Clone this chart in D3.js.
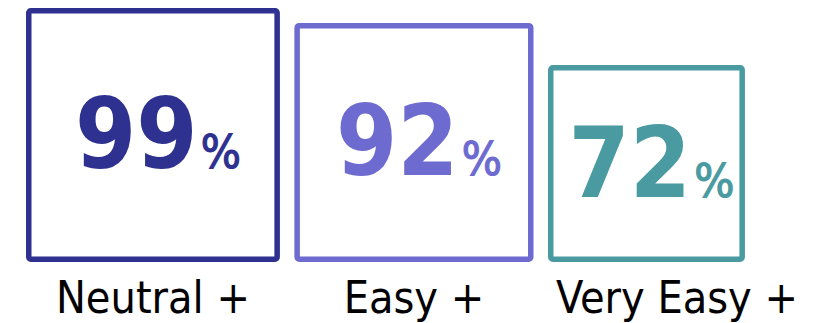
<!DOCTYPE html>
<html>
<head>
<meta charset="utf-8">
<script src="https://cdn.jsdelivr.net/npm/d3@7"></script>
<style>
  html, body { margin: 0; padding: 0; background: #fff; }
  svg { display: block; }
</style>
</head>
<body>
<svg id="chart" width="828" height="323"></svg>
<script>
// Share of respondents at or above each ease level
const categories = ["Neutral +", "Easy +", "Very Easy +"];
const values = [99, 92, 72];
const colors = ["#2E3190", "#6D6BD0", "#4A9BA1"];

const svg = d3.select("#chart");

const strokeW = 5.5;
const left = 26;        // left edge of the first box
const baseY = 262;      // shared bottom edge of the boxes
const gap = 14.5;       // horizontal space between boxes

// box side grows with the value
const side = d3.scaleLinear().domain([0, 100]).range([45, 256]);

// lay the boxes out left to right, bottom aligned
let cursor = left;
const items = categories.map((c, i) => {
  const s = side(values[i]);
  const it = { cat: c, value: values[i], color: colors[i], x: cursor, y: baseY - s, s };
  cursor += s + gap;
  return it;
});

const g = svg.selectAll("g.item").data(items).join("g").attr("class", "item");

g.append("rect")
  .attr("x", d => d.x + strokeW / 2)
  .attr("y", d => d.y + strokeW / 2)
  .attr("width", d => d.s - strokeW)
  .attr("height", d => d.s - strokeW)
  .attr("rx", 2)
  .attr("fill", "none")
  .attr("stroke", d => d.color)
  .attr("stroke-width", strokeW);

const num = g.append("text")
  .attr("x", d => d.x + d.s / 2 + 5)
  .attr("y", d => d.y + d.s / 2 + 33)
  .attr("text-anchor", "middle")
  .attr("fill", d => d.color)
  .style("font-family", "'DejaVu Sans Condensed', 'DejaVu Sans', sans-serif");
num.append("tspan")
  .style("font-size", "98px")
  .style("font-weight", "bold")
  .text(d => d.value);
num.append("tspan")
  .attr("dx", 3)
  .attr("stroke", d => d.color)
  .attr("stroke-width", 1.2)
  .style("font-size", "47px")
  .style("font-weight", "normal")
  .text("%");

// category labels: centred under the box, or starting just inside it when wider
g.append("text")
  .attr("y", 312.5)
  .attr("fill", "#000")
  .style("font-family", "'DejaVu Sans Condensed', 'DejaVu Sans', sans-serif")
  .style("font-size", "44.5px")
  .text(d => d.cat)
  .each(function (d) {
    const w = this.getComputedTextLength();
    const x = w > d.s ? d.x + 8 : d.x + d.s / 2 - w / 2;
    d3.select(this).attr("x", x);
  });
</script>
</body>
</html>
